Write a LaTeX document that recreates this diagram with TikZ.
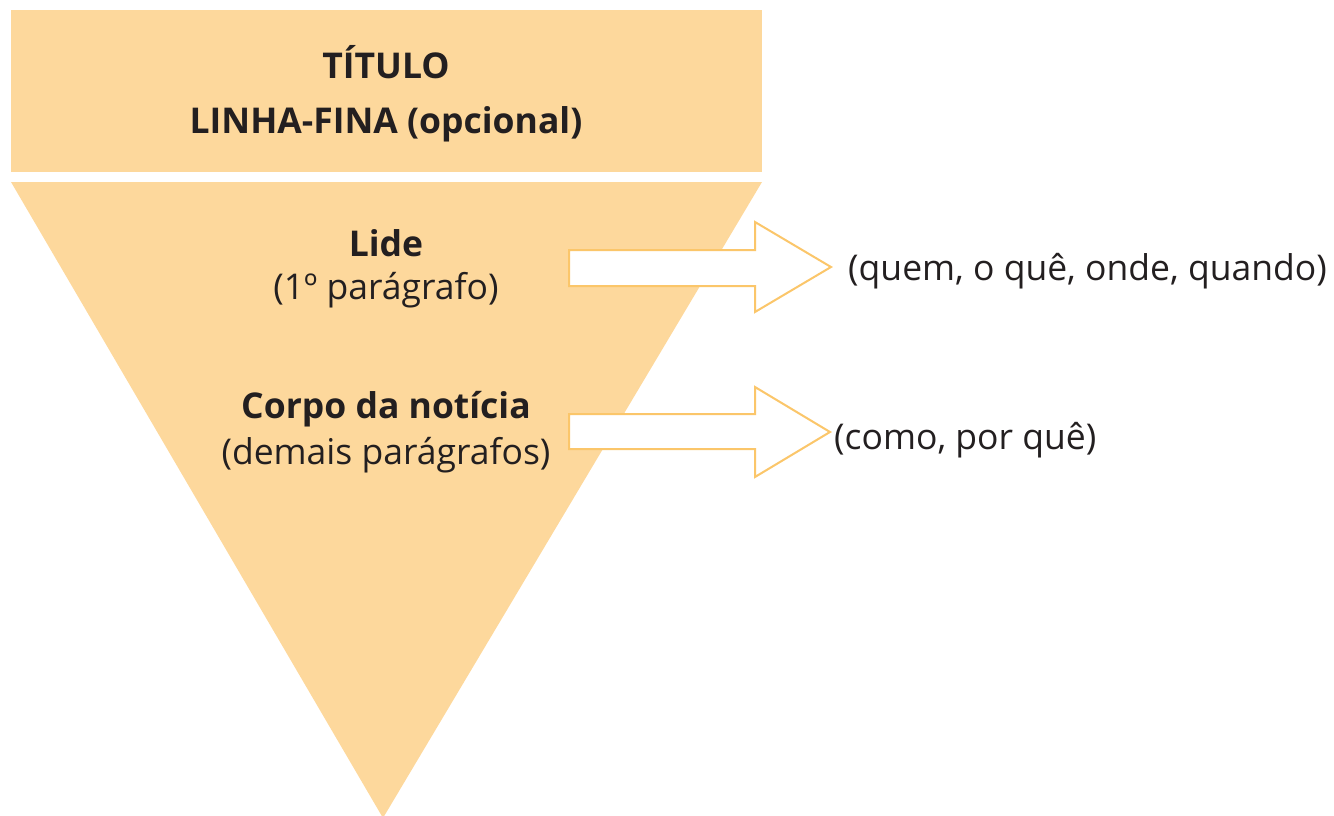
\documentclass[tikz,border=0pt]{standalone}
\usepackage{fontspec}
\setmainfont{Open Sans}
\usepackage{tikz}
\usetikzlibrary{positioning}
\definecolor{funil}{RGB}{253,216,156}
\definecolor{seta}{RGB}{251,198,106}
\definecolor{texto}{RGB}{35,31,32}
\tikzset{
    rotulo/.style={text=texto, inner sep=0pt, font=\fontsize{35.5}{40}\selectfont},
    rotulonegrito/.style={rotulo, font=\fontsize{35.5}{40}\selectfont\bfseries},
    setabloco/.style={draw=seta, line width=2, fill=white, line join=miter},
}

\begin{document}
\begin{tikzpicture}[x=1pt,y=1pt,yscale=-1,xscale=1]
		\useasboundingbox (0,0) rectangle (1334,816);
		
		% Title box
		\fill [funil] (11,10) rectangle (762,172);
		% Funnel
		\fill [funil] (11,182) -- (762,182) -- (383,818) -- cycle;
		
		% Text Node
		\node [rotulonegrito] (titulo) at (386,62) {TÍTULO};
		% Text Node
		\node [rotulonegrito] (linhafina) at (386,124) {LINHA-FINA (opcional)};
		% Text Node
		\node [rotulonegrito] (lide) at (386,243) {Lide};
		% Text Node
		\node [rotulo] (lidesub) at (386,290) {(1º parágrafo)};
		% Text Node
		\node [rotulonegrito] (corpo) at (386,409) {Corpo da notícia};
		% Text Node
		\node [rotulo] (corposub) at (386,455) {(demais parágrafos)};
		
		% Arrow
		\draw [setabloco] (569,250) -- (755,250) -- (755,222) -- (831,267) -- (755,312) -- (755,286) -- (569,286) -- cycle;
		\coordinate (ponta1) at (831,267);
		% Arrow
		\draw [setabloco] (569,414) -- (755,414) -- (755,387) -- (830,432) -- (755,477) -- (755,449) -- (569,449) -- cycle;
		\coordinate (ponta2) at (830,432);
		
		% Text Node
		\node [rotulo, anchor=west, right=17 of ponta1, yshift=-4] (perguntas1) {(quem, o quê, onde, quando)};
		% Text Node
		\node [rotulo, anchor=west, right=4 of ponta2, yshift=-8] (perguntas2) {(como, por quê)};
		
\end{tikzpicture}
\end{document}
